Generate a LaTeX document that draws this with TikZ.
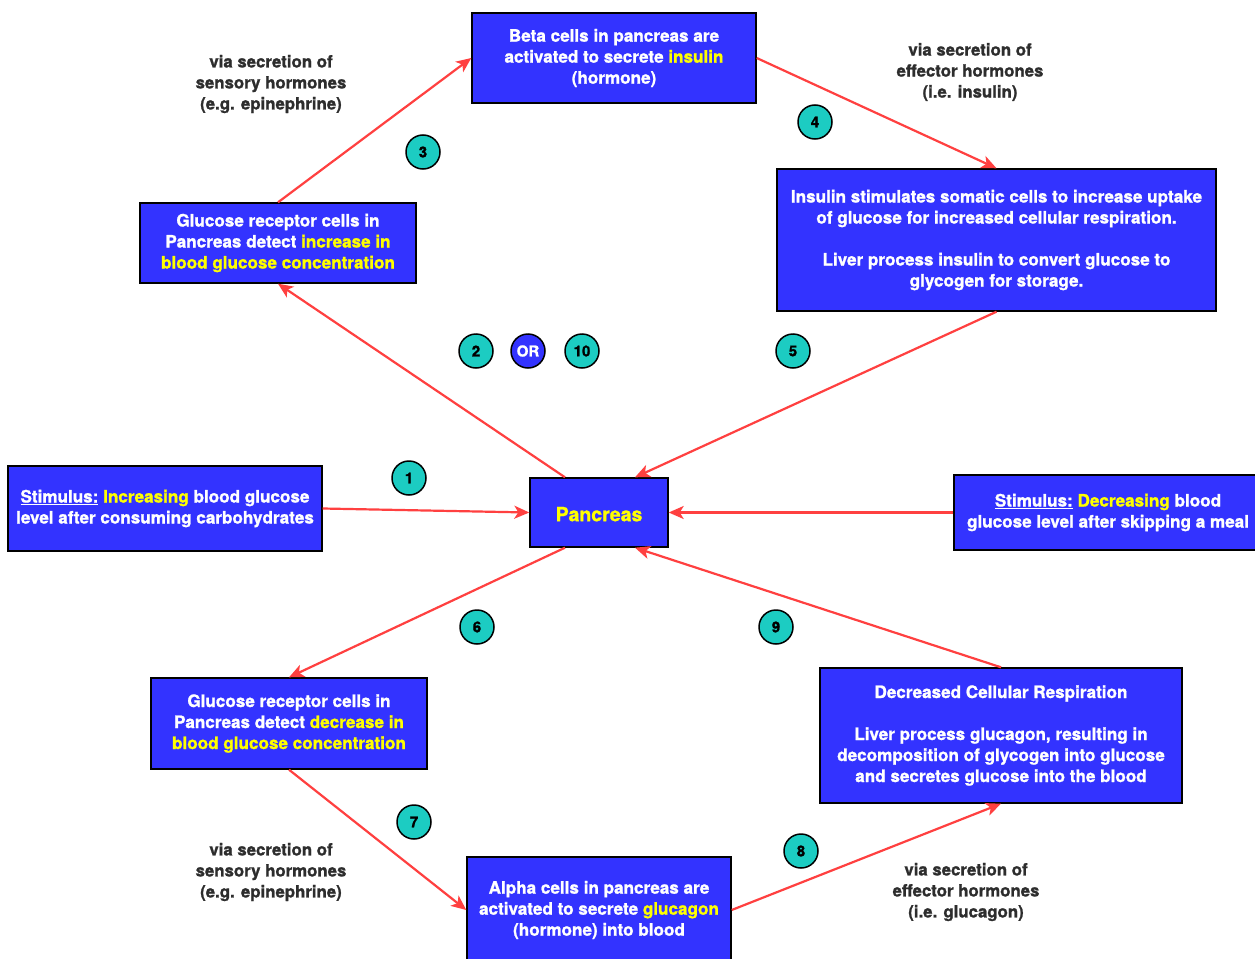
\documentclass[tikz,border=0pt]{standalone}
\usepackage{fontspec}
\setmainfont{TeX Gyre Heros}[BoldFeatures={FakeBold=1.2}]
\usetikzlibrary{arrows.meta,shadows}
\definecolor{boxblue}{RGB}{51,51,255}
\definecolor{hly}{RGB}{255,255,0}
\definecolor{tealc}{RGB}{28,204,194}
\definecolor{arrred}{RGB}{255,64,64}
\definecolor{anntext}{RGB}{45,45,45}
\newcommand{\hl}[1]{\textcolor{hly}{#1}}
\begin{document}
\begin{tikzpicture}[x=1pt,y=-1pt,
  bluebox/.style={draw=black, line width=1.4pt, fill=boxblue, text=white,
    font=\bfseries\fontsize{17.1}{21}\selectfont, align=center, inner sep=0pt,
    execute at begin node={\rule{0pt}{17.5pt}},
    drop shadow={shadow xshift=1.2pt,shadow yshift=-1.2pt,fill=black,opacity=0.35}},
  numc/.style={circle, draw=black, line width=1.5pt, fill=tealc, minimum size=34pt,
    inner sep=0pt, font=\bfseries\fontsize{15}{15}\selectfont, text=black},
  orc/.style={numc, fill=boxblue, text=white},
  ann/.style={align=center, text=anntext, font=\bfseries\fontsize{16.8}{21}\selectfont},
  flow/.style={draw=arrred, line width=2.2pt, -{Stealth[length=15pt,width=13pt,inset=4pt]}}
]
\clip (0,0) rectangle (1255,958);
\useasboundingbox (0,0) rectangle (1255,958);
\fill[white] (0,0) rectangle (1255,958);

% boxes
\node[bluebox, minimum width=284pt, minimum height=90pt] (beta) at (614,58)
  {Beta cells in pancreas are\\activated to secrete \hl{insulin}\\(hormone)};
\node[bluebox, minimum width=439pt, minimum height=142pt] (ins) at (996.5,240)
  {Insulin stimulates somatic cells to increase uptake\\of glucose for increased cellular respiration.\\[21pt]Liver process insulin to convert glucose to\\glycogen for storage.};
\node[bluebox, minimum width=276pt, minimum height=80pt] (inc) at (278,243)
  {Glucose receptor cells in\\Pancreas detect \hl{increase in}\\\hl{blood glucose concentration}};
\node[bluebox, minimum width=314pt, minimum height=85pt] (lstim) at (165,508.5)
  {\underline{Stimulus:} \hl{Increasing} blood glucose\\level after consuming carbohydrates};
\node[bluebox, minimum width=138pt, minimum height=69pt, execute at begin node={},
  font=\bfseries\fontsize{19.5}{21}\selectfont, text=hly] (panc) at (599,512.5)
  {Pancreas};
\node[bluebox, minimum width=308pt, minimum height=75pt] (rstim) at (1108,512.5)
  {\underline{Stimulus:} \hl{Decreasing} blood\\glucose level after skipping a meal};
\node[bluebox, minimum width=276pt, minimum height=91pt] (dec) at (289,723.5)
  {Glucose receptor cells in\\Pancreas detect \hl{decrease in}\\\hl{blood glucose concentration}};
\node[bluebox, minimum width=264pt, minimum height=106pt] (alpha) at (599,910)
  {Alpha cells in pancreas are\\activated to secrete \hl{glucagon}\\(hormone) into blood};
\node[bluebox, minimum width=362pt, minimum height=135pt] (resp) at (1001,735.5)
  {Decreased Cellular Respiration\\[21pt]Liver process glucagon, resulting in\\decomposition of glycogen into glucose\\and secretes glucose into the blood};

% annotations
\node[ann] (a1) at (271,84) {via secretion of\\sensory hormones\\(e.g. epinephrine)};
\node[ann] (a2) at (970,72) {via secretion of\\effector hormones\\(i.e. insulin)};
\node[ann] (a3) at (271,872) {via secretion of\\sensory hormones\\(e.g. epinephrine)};
\node[ann] (a4) at (966,892) {via secretion of\\effector hormones\\(i.e. glucagon)};

% number circles
\node[numc] (n1) at (409,478) {1};
\node[numc] (n2) at (476,351) {2};
\node[orc]  (nor) at (528,351) {OR};
\node[numc] (n10) at (582,351) {10};
\node[numc] (n3) at (423,152) {3};
\node[numc] (n4) at (815,122) {4};
\node[numc] (n5) at (793,351) {5};
\node[numc] (n6) at (477,627) {6};
\node[numc] (n7) at (414,822) {7};
\node[numc] (n8) at (801,851) {8};
\node[numc] (n9) at (776,627) {9};

% connectors
\draw[flow] (inc.north) -- (beta.west);
\draw[flow] (beta.east) -- (ins.north);
\draw[flow] (ins.south) -- ([xshift=36pt]panc.north);
\draw[flow] ([xshift=-34pt]panc.north) -- (inc.south);
\draw[flow] (lstim.east) -- (panc.west);
\draw[flow] (rstim.west) -- (panc.east);
\draw[flow] ([xshift=-34pt]panc.south) -- (dec.north);
\draw[flow] (resp.north) -- ([xshift=36pt]panc.south);
\draw[flow] (dec.south) -- (alpha.west);
\draw[flow] (alpha.east) -- (resp.south);
\end{tikzpicture}
\end{document}
